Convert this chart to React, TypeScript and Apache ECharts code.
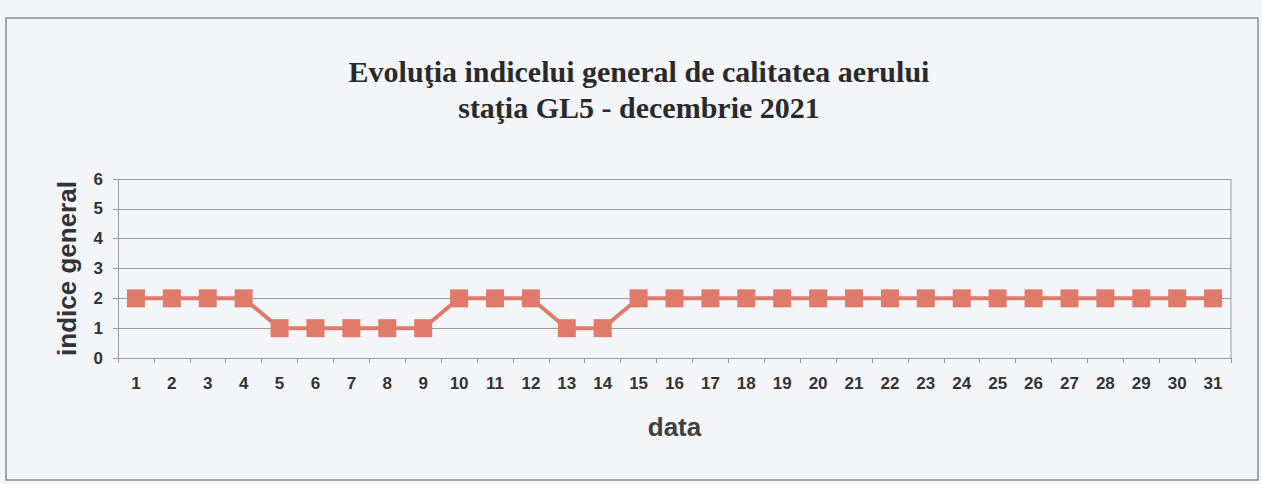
import React, { useEffect, useRef } from "react";
import * as echarts from "echarts";

const days: string[] = Array.from({ length: 31 }, (_, i) => String(i + 1));
const indexValues: number[] = [
  2, 2, 2, 2, 1, 1, 1, 1, 1, 2, 2, 2, 1, 1, 2, 2, 2, 2, 2, 2, 2, 2, 2, 2, 2, 2, 2, 2, 2, 2, 2,
];
const yTicks: number[] = [0, 1, 2, 3, 4, 5, 6];

export default function App() {
  const ref = useRef<HTMLDivElement>(null);
  useEffect(() => {
    if (!ref.current) return;
    const chart = echarts.init(ref.current, undefined, { renderer: "svg" });
    chart.setOption({
      animation: false,
      backgroundColor: "#f3f5f9",
      title: {
        text: "Evoluţia indicelui general de calitatea aerului\nstaţia GL5 - decembrie 2021",
        left: 634,
        top: 48,
        textAlign: "center",
        textStyle: {
          fontFamily: "Liberation Serif",
          fontWeight: "bold",
          fontSize: 30,
          color: "#2a2a2a",
          lineHeight: 36,
        },
      },
      graphic: [
        {
          type: "rect",
          shape: { x: 6, y: 18, width: 1252, height: 462 },
          style: { fill: "none", stroke: "#8a8a8a", lineWidth: 1.5 },
          silent: true,
        },
        {
          type: "line",
          shape: { x1: 1231, y1: 179, x2: 1231, y2: 358 },
          style: { stroke: "#999", lineWidth: 1 },
          silent: true,
        },
      ],
      grid: { left: 118, right: 31, top: 179, bottom: 126, containLabel: false },
      xAxis: {
        type: "category",
        data: days,
        boundaryGap: true,
        name: "data",
        nameLocation: "middle",
        nameGap: 56,
        nameTextStyle: { fontFamily: "Liberation Sans", fontWeight: "bold", fontSize: 26, color: "#404040" },
        axisLine: { show: true, lineStyle: { color: "#999", width: 1 } },
        axisTick: { show: true, alignWithLabel: false, length: 5, lineStyle: { color: "#999" } },
        axisLabel: {
          fontFamily: "Liberation Sans",
          fontWeight: "bold",
          fontSize: 17,
          color: "#333",
          margin: 17,
          interval: 0,
        },
        splitLine: { show: false },
      },
      yAxis: {
        type: "value",
        min: yTicks[0],
        max: yTicks[yTicks.length - 1],
        interval: 1,
        name: "indice general",
        nameLocation: "middle",
        nameGap: 38,
        nameRotate: 90,
        nameTextStyle: { fontFamily: "Liberation Sans", fontWeight: "bold", fontSize: 26, color: "#333" },
        axisLine: { show: true, lineStyle: { color: "#999", width: 1 } },
        axisTick: { show: true, length: 5, lineStyle: { color: "#999" } },
        axisLabel: { fontFamily: "Liberation Sans", fontWeight: "bold", fontSize: 17, color: "#333", margin: 15 },
        splitLine: { show: true, lineStyle: { color: "#9a9a9a", width: 1 } },
      },
      series: [
        {
          type: "line",
          data: indexValues,
          symbol: "rect",
          symbolSize: 18,
          lineStyle: { color: "#e07b6b", width: 4 },
          itemStyle: { color: "#e07b6b" },
        },
      ],
    });
    return () => chart.dispose();
  }, []);
  return (
    <div
      ref={ref}
      style={{ position: "fixed", left: 0, top: 0, width: 1262, height: 484 }}
    />
  );
}
